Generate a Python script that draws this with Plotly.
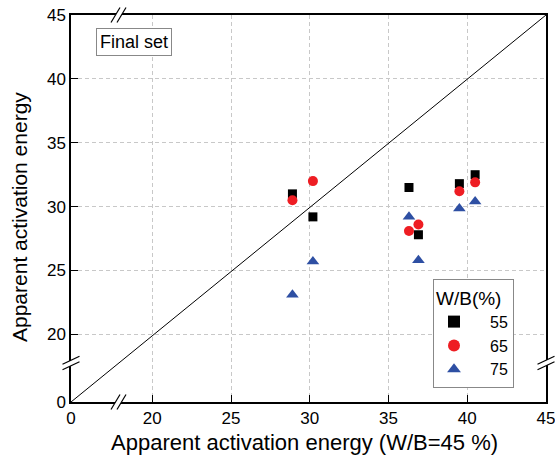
import plotly.graph_objects as go

# ---- data ----
x_ref = [28.9, 30.2, 36.3, 36.9, 39.5, 40.5]
y_55 = [31.0, 29.2, 31.5, 27.8, 31.8, 32.5]
y_65 = [30.5, 32.0, 28.1, 28.6, 31.2, 31.9]
y_75 = [23.1, 25.7, 29.2, 25.8, 29.85, 30.4]
series_names = ["55", "65", "75"]
diag = [0, 45]
tick_vals = [20, 25, 30, 35, 40, 45]
tick_text = ["20", "25", "30", "35", "40", "45"]

# broken-axis mapping: value "0" is drawn at the start of the visible range
X_ZERO = 14.84
Y_ZERO = 14.71


def map_x(v):
    return X_ZERO if v == 0 else v


def map_y(v):
    return Y_ZERO if v == 0 else v


FONT = "Liberation Sans, Arial, sans-serif"
W, H = 555, 460
PL, PR, PT, PB = 71, 546, 15, 402
PW, PH = PR - PL, PB - PT


def px(x):
    return (x - PL) / PW


def py(y):
    return (PB - y) / PH


fig = go.Figure()

# y = x reference line
fig.add_trace(go.Scatter(
    x=[map_x(v) for v in diag], y=[map_y(v) for v in diag], mode="lines",
    line=dict(color="black", width=1), showlegend=False, hoverinfo="skip"))

pad = "\u2002\u2002"
fig.add_trace(go.Scatter(x=x_ref, y=y_55, mode="markers", name=pad + series_names[0],
                         marker=dict(symbol="square", size=9, color="black")))
fig.add_trace(go.Scatter(x=x_ref, y=y_65, mode="markers", name=pad + series_names[1],
                         marker=dict(symbol="circle", size=10, color="#EE1D23")))
fig.add_trace(go.Scatter(x=x_ref, y=y_75, mode="markers", name=pad + series_names[2],
                         marker=dict(symbol="triangle-up", size=11, color="#2E4FA3")))

axis_common = dict(
    showline=True, linecolor="black", linewidth=1.5, mirror=True,
    ticks="inside", ticklen=7, tickwidth=1.2, tickcolor="black",
    showgrid=True, gridcolor="#C8C8C8", gridwidth=1, griddash="4px,3px",
    zeroline=False, tickfont=dict(family=FONT, size=17, color="black"),
    automargin=False, ticklabeloverflow="allow",
)

fig.update_xaxes(range=[X_ZERO, 45], tickmode="array",
                 tickvals=[X_ZERO] + tick_vals, ticktext=["0"] + tick_text,
                 **axis_common)
fig.update_yaxes(range=[Y_ZERO, 45], tickmode="array",
                 tickvals=[Y_ZERO] + tick_vals, ticktext=["0"] + tick_text,
                 **axis_common)

shapes = []


def seg(x0, y0, x1, y1, color="black", width=1.2):
    shapes.append(dict(type="line", xref="paper", yref="paper",
                       x0=px(x0), y0=py(y0), x1=px(x1), y1=py(y1),
                       line=dict(color=color, width=width), layer="above"))


# x-axis break marks (bottom & top)
for yb in (PB, PT):
    cx = 118.5
    seg(cx - 4.5, yb + 7.5, cx + 4.5, yb - 7.5, color="white", width=5)
    for o in (-3, 3):
        seg(cx + o - 4.5, yb + 7.5, cx + o + 4.5, yb - 7.5)

# y-axis break marks (left & right)
for xb in (PL, PR):
    cy = 363
    seg(xb - 8.5, cy + 4, xb + 8.5, cy - 4, color="white", width=5)
    for o in (-2.7, 2.7):
        seg(xb - 8.5, cy + o + 4, xb + 8.5, cy + o - 4)

annotations = [
    dict(text="Final set", xref="paper", yref="paper", x=px(96), y=py(42),
         xanchor="left", yanchor="middle", showarrow=False,
         font=dict(family=FONT, size=18, color="black"),
         bordercolor="#888888", borderwidth=1, borderpad=3, bgcolor="white"),
    dict(text="Apparent activation energy (W/B=45 %)", xref="paper", yref="paper",
         x=px(304), y=py(442), xanchor="center", yanchor="middle", showarrow=False,
         font=dict(family=FONT, size=22, color="black")),
    dict(text="Apparent activation energy", xref="paper", yref="paper",
         x=px(19), y=py(217), xanchor="center", yanchor="middle", showarrow=False,
         textangle=-90, font=dict(family=FONT, size=21, color="black")),
]

fig.update_layout(
    width=W, height=H,
    margin=dict(l=PL, r=W - PR, t=PT, b=H - PB, autoexpand=False),
    paper_bgcolor="white", plot_bgcolor="white",
    shapes=shapes, annotations=annotations,
    legend=dict(
        title=dict(text="W/B(%)", font=dict(family=FONT, size=19, color="black")),
        font=dict(family=FONT, size=16, color="black"),
        x=px(433), y=py(279), xanchor="left", yanchor="top",
        bordercolor="#888888", borderwidth=1, bgcolor="white",
        itemsizing="constant", tracegroupgap=0,
    ),
    font=dict(family=FONT),
)

fig.write_html("out.html",
               config={"displayModeBar": False},
               post_script="document.body.style.margin='0px';"
                           "document.body.style.overflow='hidden';")
